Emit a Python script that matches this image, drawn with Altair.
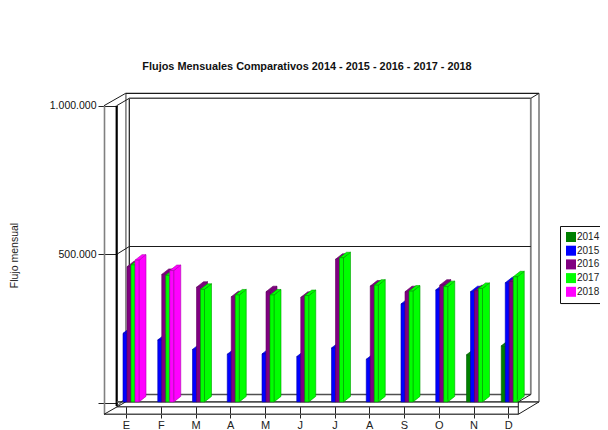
import altair as alt
import pandas as pd

MONTHS = ["E", "F", "M", "A", "M", "J", "J", "A", "S", "O", "N", "D"]
YEARS = ["2014", "2015", "2016", "2017", "2018"]
COLORS = ["#008000", "#0000FF", "#800080", "#00FF00", "#FF00FF"]
EDGES = ["#006000", "#0000B0", "#600060", "#00A000", "#B000B0"]

V2014 = [None, None, None, None, None, None, None, None, None, None, 163000, 193000]
V2015 = [235000, 213000, 181000, 165000, 166000, 157000, 186000, 148000, 334000, 381000, 375000, 405000]
V2016 = [459000, 433000, 390000, 358000, 375000, 356000, 484000, 394000, 375000, 397000, 378000, 409000]
V2017 = [465000, 430000, 383000, 364000, 364000, 362000, 489000, 397000, 377000, 392000, 386000, 425000]
V2018 = [481000, 446000, None, None, None, None, None, None, None, None, None, None]
SERIES = [V2014, V2015, V2016, V2017, V2018]

TITLE = "Flujos Mensuales Comparativos 2014 - 2015  - 2016 - 2017 - 2018"

# page geometry of the pseudo-3D box
PX_MONTH = 34.75
PX_VALUE = 3360.0
X0_PAGE, Y0_PAGE = 126.0, 403.3
L, T, W, H = 117, 90, 428, 316


def fx(px):
    return (px - X0_PAGE) / PX_MONTH


def fy(py):
    return (Y0_PAGE - py) * PX_VALUE


xscale = alt.Scale(domain=[fx(L), fx(L + W)], nice=False, zero=False)
yscale = alt.Scale(domain=[fy(T + H), fy(T)], nice=False, zero=False)

DARK, GREY, MID = "#1a1a1a", "#808080", "#505050"
FRAME = [
    (104.5, 105.7, 104.5, 414.3, 1.6, GREY), (125.9, 93.3, 125.9, 401.9, 1.6, GREY),
    (530.8, 98.3, 530.8, 394.5, 1.8, GREY), (116.7, 105.7, 116.7, 406, 2.2, "#000000"),
    (129.3, 98.3, 129.3, 394.5, 1.2, DARK), (539, 93.3, 539, 402, 1.2, MID),
    (125.7, 93.3, 539, 93.3, 1.2, DARK), (129.3, 98.3, 530.8, 98.3, 1.6, MID),
    (104, 105.7, 125.7, 93.3, 1.0, DARK), (116.7, 105.7, 129.3, 98.3, 1.0, DARK),
    (530.8, 98.3, 539, 93.3, 1.0, DARK),
    (116.7, 254.3, 129.3, 246.5, 1.0, DARK), (129.3, 246.5, 530.8, 246.5, 1.0, DARK),
    (129.3, 394.5, 530.8, 394.5, 1.6, MID), (116.7, 401.9, 539, 401.9, 1.6, MID),
    (116.7, 406.7, 518.3, 406.7, 1.4, MID), (104, 414.3, 518.3, 414.3, 1.6, MID),
    (518.3, 401.9, 518.3, 414.3, 1.0, DARK), (518.3, 414.3, 539, 401.9, 1.0, DARK),
    (518.3, 401.9, 530.8, 394.5, 1.0, DARK), (104, 414.3, 125.7, 401.9, 1.0, DARK),
    (116.7, 406.7, 129.3, 394.5, 1.0, DARK),
    (561, 303.6, 600, 303.6, 1.0, GREY),
]
frame_df = pd.DataFrame(
    [{"x": fx(a), "y": fy(b), "x2": fx(c), "y2": fy(d), "w": w, "c": k} for a, b, c, d, w, k in FRAME]
)

month_expr = "[" + ",".join(f"'{m}'" for m in MONTHS) + "][datum.value]"

FONT = "Liberation Sans"

XAXIS = alt.Axis(
    values=list(range(12)),
    labelExpr=month_expr,
    title=None,
    domain=False,
    grid=False,
    tickSize=12,
    tickColor="#222222",
    labelPadding=1,
    labelFontSize=11,
    labelFont=FONT,
    labelColor="#222222",
    labelOverlap=False,
)
YAXIS = alt.Axis(
    values=[0, 500000, 1000000],
    labelExpr="datum.value == 0 ? '' : replace(format(datum.value, ','), /,/g, '.')",
    title="Flujo mensual",
    titleFont=FONT,
    titleFontSize=10.5,
    titleFontWeight="normal",
    titleColor="#222222",
    titleAngle=270,
    titleX=9 - L,
    titleY=255 - T,
    titleAlign="center",
    titleBaseline="top",
    domain=False,
    grid=False,
    tickSize=19,
    tickColor="#222222",
    labelPadding=2,
    labelFontSize=10.5,
    labelFont=FONT,
    labelColor="#111111",
)
X = alt.X("x:Q", scale=xscale, axis=XAXIS)
Y = alt.Y("y:Q", scale=yscale, axis=YAXIS)

frame = (
    alt.Chart(frame_df)
    .mark_rule()
    .encode(
        x=X,
        x2="x2:Q",
        y=Y,
        y2="y2:Q",
        strokeWidth=alt.StrokeWidth("w:Q", scale=None),
        stroke=alt.Stroke("c:N", scale=None),
    )
)

SLOT_PX = 4.0
FIRST_SLOT_PX = -7.0
DEPTH_X = 7.0
DEPTH_Y = 5.5
FLOOR = fy(401.9)

layers = [frame]
dx = DEPTH_X / PX_MONTH
dy = DEPTH_Y * PX_VALUE
sw = SLOT_PX / PX_MONTH

for s, (year, values) in enumerate(zip(YEARS, SERIES)):
    front, side, top = [], [], []
    left = (FIRST_SLOT_PX + s * SLOT_PX) / PX_MONTH
    for m, v in enumerate(values):
        if v is None:
            continue
        xl = m + left
        xr = xl + sw
        front.append({"x": xl, "x2": xr, "y": v, "y2": FLOOR, "year": year})
        side.append({"id": m, "x": xr, "y": v, "y2": FLOOR})
        side.append({"id": m, "x": xr + dx, "y": v + dy, "y2": FLOOR + dy})
        top.append({"id": m, "y": v, "x": xl, "x2": xr})
        top.append({"id": m, "y": v + dy, "x": xl + dx, "x2": xr + dx})

    side_layer = (
        alt.Chart(pd.DataFrame(side))
        .mark_area(color=COLORS[s], stroke=EDGES[s], strokeWidth=0.6, opacity=1)
        .encode(x=X, y=Y, y2="y2:Q", detail="id:N")
    )
    top_layer = (
        alt.Chart(pd.DataFrame(top))
        .mark_area(color=COLORS[s], stroke=EDGES[s], strokeWidth=0.6, opacity=1, orient="horizontal")
        .encode(y=Y, x=X, x2="x2:Q", detail="id:N")
    )
    front_layer = (
        alt.Chart(pd.DataFrame(front))
        .mark_rect(stroke=EDGES[s], strokeWidth=0.6, opacity=1)
        .encode(
            x=X,
            x2="x2:Q",
            y=Y,
            y2="y2:Q",
            color=alt.Color(
                "year:N",
                scale=alt.Scale(domain=YEARS, range=COLORS),
                legend=alt.Legend(
                    title=None,
                    orient="none",
                    legendX=560 - L,
                    legendY=226 - T,
                    symbolType="square",
                    symbolSize=100,
                    symbolStrokeWidth=0,
                    labelFont=FONT,
                    labelFontSize=10,
                    labelColor="#222222",
                    labelOffset=1,
                    rowPadding=3.7,
                    padding=6,
                    strokeColor="#111111",
                    fillColor="white",
                ),
            ),
        )
    )
    layers += [side_layer, top_layer, front_layer]

chart = (
    alt.layer(*layers)
    .properties(
        width=W,
        height=H,
        padding={"left": L - 8, "top": T - 8, "right": 592 - (L - 8) - W, "bottom": 422 - (T - 8) - H},
        autosize=alt.AutoSizeParams(type="none"),
        title=alt.TitleParams(
            text=TITLE,
            font=FONT,
            fontSize=10.9,
            fontWeight="bold",
            color="#111111",
            anchor="middle",
            dx=-24,
            offset=18,
        ),
    )
    .configure_view(stroke=None)
    .resolve_scale(color="shared")
)

chart.save("out.html", embed_options={"renderer": "svg", "actions": False})
